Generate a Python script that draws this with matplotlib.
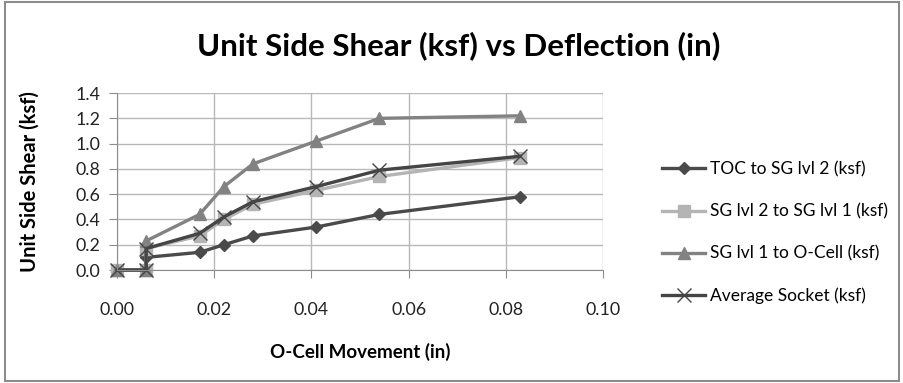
import matplotlib
matplotlib.use('Agg')
import matplotlib.pyplot as plt
from matplotlib.patches import Rectangle

plt.rcParams['font.family'] = ['Lato', 'DejaVu Sans']

movement = [0.0, 0.006, 0.006, 0.017, 0.022, 0.028, 0.041, 0.054, 0.083]
toc_sg2 = [0.0, 0.0, 0.10, 0.14, 0.20, 0.27, 0.34, 0.44, 0.58]
sg2_sg1 = [0.0, 0.0, 0.17, 0.27, 0.40, 0.52, 0.63, 0.74, 0.89]
sg1_ocell = [0.0, 0.0, 0.23, 0.44, 0.66, 0.84, 1.02, 1.20, 1.22]
avg_socket = [0.0, 0.0, 0.17, 0.29, 0.42, 0.54, 0.66, 0.79, 0.90]

labels = ['TOC to SG lvl 2 (ksf)', 'SG lvl 2 to SG lvl 1 (ksf)',
          'SG lvl 1 to O-Cell (ksf)', 'Average Socket (ksf)']

fig = plt.figure(figsize=(9.04, 3.83), dpi=100)
ax = fig.add_axes([0.1294, 0.295, 0.5376, 0.462])

ax.plot(movement, toc_sg2, color='#4a4a4a', lw=2.4, marker='D', ms=6.5, label=labels[0], clip_on=False)
ax.plot(movement, sg2_sg1, color='#b4b4b4', lw=2.4, marker='s', ms=8, label=labels[1], clip_on=False)
ax.plot(movement, sg1_ocell, color='#828282', lw=2.4, marker='^', ms=9, label=labels[2], clip_on=False)
ax.plot(movement, avg_socket, color='#454545', lw=2.4, marker='x', ms=10, mew=1, label=labels[3], clip_on=False)

ax.set_xlim(0, 0.10)
ax.set_ylim(0, 1.4)
ax.set_xticks([0.0, 0.02, 0.04, 0.06, 0.08, 0.10])
ax.set_yticks([0.0, 0.2, 0.4, 0.6, 0.8, 1.0, 1.2, 1.4])
ax.set_xticklabels(['0.00', '0.02', '0.04', '0.06', '0.08', '0.10'])
ax.set_yticklabels(['0.0', '0.2', '0.4', '0.6', '0.8', '1.0', '1.2', '1.4'])
ax.grid(True, color='#b8b8b8', lw=1)
ax.set_axisbelow(True)
for s in ['top', 'right']:
    ax.spines[s].set_visible(False)
for s in ['left', 'bottom']:
    ax.spines[s].set_color('#8c8c8c')
ax.tick_params(axis='both', colors='#8c8c8c', labelcolor='#222222', labelsize=12.8, length=6, direction='out')
ax.tick_params(axis='x', pad=17)
ax.tick_params(axis='y', pad=6)

ax.set_xlabel('O-Cell Movement (in)', fontsize=13.5, fontweight='bold', labelpad=18)
ax.set_ylabel('Unit Side Shear (ksf)', fontsize=14.5, fontweight='bold', labelpad=26)

fig.text(0.507, 0.88, 'Unit Side Shear (ksf) vs Deflection (in)', ha='center', va='center',
         fontsize=22.5, fontweight='bold')

fig.legend(loc='center left', bbox_to_anchor=(0.715, 0.392), frameon=False, fontsize=12.5,
           handlelength=2.5, handletextpad=0.25, labelspacing=1.5)

fig.patches.append(Rectangle((0.005, 0.005), 0.99, 0.99, transform=fig.transFigure,
                             fill=False, edgecolor='#8c8c8c', lw=1.5))

fig.savefig('out.png', dpi=100)
